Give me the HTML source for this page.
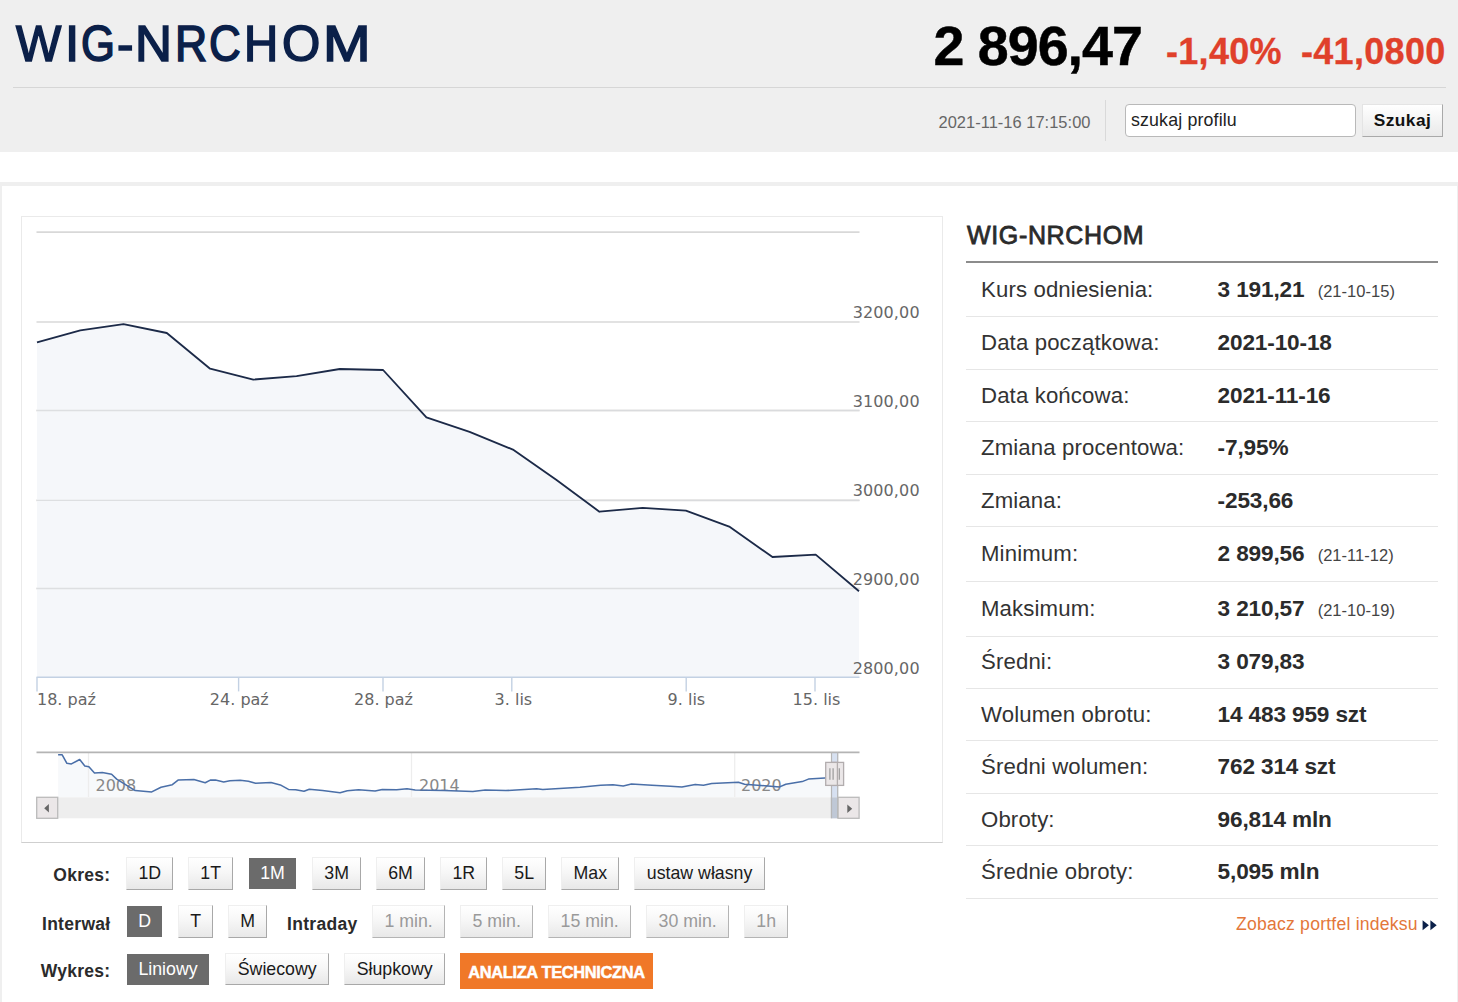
<!DOCTYPE html>
<html lang="pl">
<head>
<meta charset="utf-8">
<title>WIG-NRCHOM</title>
<style>
*{box-sizing:border-box;margin:0;padding:0}
html,body{width:1458px;height:1002px;overflow:hidden;background:#fff}
body{position:relative;font-family:"Liberation Sans",sans-serif;color:#2b2b2b}
.abs{position:absolute;white-space:nowrap}
/* header */
#hdr{left:0;top:0;width:1458px;height:152px;background:#efefef}
#ttl{left:0;top:15.4px;width:460px;height:60px;font-size:49.5px;font-weight:normal;color:#0b2049;-webkit-text-stroke:1.6px #0b2049}
#ttl span{display:inline-block;transform-origin:0 0;text-align:left}
#sep{left:13px;top:87px;width:1433px;height:1px;background:#d6d6d6}
#price{left:933.5px;top:14.6px;font-size:55.6px;line-height:62px;font-weight:bold;color:#000;letter-spacing:-1px;-webkit-text-stroke:.5px #000}
#chg1{left:1166px;top:32.2px;font-size:36px;line-height:40px;font-weight:bold;color:#e0402b;letter-spacing:.3px;-webkit-text-stroke:.3px #e0402b}
#chg2{left:1301px;top:32.2px;font-size:36px;line-height:40px;font-weight:bold;color:#e0402b;letter-spacing:.3px;-webkit-text-stroke:.3px #e0402b}
#dt{left:938.5px;top:111.7px;font-size:16.45px;letter-spacing:.03px;line-height:20px;color:#666}
#vsep{left:1105px;top:100px;width:1px;height:41px;background:#d9d9d9}
#inp{left:1125px;top:104px;width:231px;height:33px;background:#fff;border:1px solid #b9b9b9;border-radius:4px;font-size:17.8px;line-height:30px;padding-left:5px;color:#222;letter-spacing:.15px}
#btn{left:1362px;top:104px;width:81px;height:33px;border:1px solid #e4e4e4;border-right-color:#a9a9a9;border-bottom-color:#a9a9a9;background:linear-gradient(#ffffff,#e9e9e9);font-size:17.3px;line-height:31px;font-weight:bold;color:#111;text-align:center;letter-spacing:.5px}
/* frame */
#frame{left:0;top:182px;width:1458px;height:830px;border-top:4px solid #efefef;border-left:2px solid #efefef;border-right:1px solid #efefef}
#cbox{left:21px;top:216px;width:922px;height:627px;border:1px solid #eaeaea;border-bottom-color:#cfcfcf}
/* table */
#t2{left:967px;top:219.6px;font-size:25px;line-height:30px;font-weight:normal;color:#2b2b2b;letter-spacing:.65px;-webkit-text-stroke:.8px #2b2b2b}
#t2l{left:966px;top:261px;width:472px;height:2px;background:#8c8c8c}
.row{left:966px;width:472px;border-bottom:1px solid #e6e6e6}
.row .l{position:absolute;left:15px;font-size:22.2px;color:#333;letter-spacing:.13px}
.row .v{position:absolute;left:251.6px;font-size:22.6px;font-weight:bold;color:#2b2b2b;letter-spacing:-.14px}
.row .v small{font-size:16.5px;font-weight:normal;color:#444;margin-left:7.1px;letter-spacing:.02px}
#lnk{left:1236px;top:913px;font-size:17.6px;line-height:22px;color:#e3773a;letter-spacing:.22px}
/* buttons */
.lb{font-size:17.5px;line-height:20px;font-weight:bold;color:#2b2b2b;letter-spacing:.3px}
.bt{font-size:17.75px;color:#1a1a1a;text-align:center;border:1px solid #efefef;border-right:1.5px solid #a8a8a8;border-bottom:1.5px solid #a8a8a8;background:linear-gradient(#ffffff 0%,#f7f7f7 45%,#e8e8e8 100%)}
.bt.on{background:#6b6b6b;color:#fff;border-color:#6b6b6b}
.bt.dis{color:#9a9a9a;border-right-color:#b4b4b4;border-bottom-color:#b4b4b4}
#at{left:460px;top:953px;width:193px;height:35.5px;background:#f07828;color:#fff;font-weight:bold;font-size:16.4px;line-height:38.6px;text-align:center;letter-spacing:-0.33px;-webkit-text-stroke:.5px #fff}
</style>
</head>
<body>
<div id="hdr" class="abs"></div>
<div id="ttl" class="abs" style="padding-left:15.8px"><span style="width:49.3px;transform:scaleX(0.969)">W</span><span style="width:16.3px;transform:scaleX(1.033)">I</span><span style="width:35.7px;transform:scaleX(0.882)">G</span><span style="width:17.7px;transform:scaleX(1.000)">-</span><span style="width:40.2px;transform:scaleX(1.033)">N</span><span style="width:33.6px;transform:scaleX(0.900)">R</span><span style="width:35.4px;transform:scaleX(0.888)">C</span><span style="width:38.4px;transform:scaleX(0.957)">H</span><span style="width:41.1px;transform:scaleX(0.994)">O</span><span style="width:50.0px;transform:scaleX(1.154)">M</span></div>
<div id="sep" class="abs"></div>
<div id="price" class="abs">2 896,47</div>
<div id="chg1" class="abs">-1,40%</div>
<div id="chg2" class="abs">-41,0800</div>
<div id="dt" class="abs">2021-11-16 17:15:00</div>
<div id="vsep" class="abs"></div>
<div id="inp" class="abs">szukaj profilu</div>
<div id="btn" class="abs">Szukaj</div>

<div id="frame" class="abs"></div>
<div id="cbox" class="abs"></div>
<svg class="abs" style="left:0;top:0" width="1458" height="1002" viewBox="0 0 1458 1002" font-family="'DejaVu Sans','Liberation Sans',sans-serif">
<path d="M36.5 232.1 H859.5" stroke="#d8d8d8" stroke-width="1.6" fill="none"/>
<path d="M36.5 322.0 H859.5" stroke="#d8d8d8" stroke-width="1.6" fill="none"/>
<path d="M36.5 410.5 H859.5" stroke="#d8d8d8" stroke-width="1.6" fill="none"/>
<path d="M36.5 500.4 H859.5" stroke="#d8d8d8" stroke-width="1.6" fill="none"/>
<path d="M36.5 588.5 H859.5" stroke="#d8d8d8" stroke-width="1.6" fill="none"/>
<path d="M37.0 342.3 L80.3 330.3 L123.5 324.1 L166.8 333.0 L210.1 368.7 L253.3 379.6 L296.6 376.2 L339.8 369.0 L383.1 370.0 L426.4 417.4 L469.6 431.8 L512.9 449.6 L556.2 479.8 L599.4 511.7 L642.7 507.9 L685.9 510.6 L729.2 526.6 L772.5 557.0 L815.7 554.6 L859.0 591.2 L859.0 677.2 L37.0 677.2 Z" fill="#f5f7fa" stroke="none"/>
<path d="M36.5 410.5 H859.5" stroke="#dadbde" stroke-width="1.4" fill="none" opacity="0.9"/>
<path d="M36.5 500.4 H859.5" stroke="#dadbde" stroke-width="1.4" fill="none" opacity="0.9"/>
<path d="M36.5 588.5 H859.5" stroke="#dadbde" stroke-width="1.4" fill="none" opacity="0.9"/>
<path d="M37.0 342.3 L80.3 330.3 L123.5 324.1 L166.8 333.0 L210.1 368.7 L253.3 379.6 L296.6 376.2 L339.8 369.0 L383.1 370.0 L426.4 417.4 L469.6 431.8 L512.9 449.6 L556.2 479.8 L599.4 511.7 L642.7 507.9 L685.9 510.6 L729.2 526.6 L772.5 557.0 L815.7 554.6 L859.0 591.2" fill="none" stroke="#1c2a48" stroke-width="1.85" stroke-linejoin="round" stroke-linecap="butt"/>
<path d="M36.5 677.2 H859.5" stroke="#c3d1e3" stroke-width="1.5" fill="none"/>
<path d="M37 677.2 V691.4" stroke="#c3d1e3" stroke-width="1.4" fill="none"/>
<path d="M238.6 677.2 V691.4" stroke="#c3d1e3" stroke-width="1.4" fill="none"/>
<path d="M383 677.2 V691.4" stroke="#c3d1e3" stroke-width="1.4" fill="none"/>
<path d="M511.8 677.2 V691.4" stroke="#c3d1e3" stroke-width="1.4" fill="none"/>
<path d="M686.2 677.2 V691.4" stroke="#c3d1e3" stroke-width="1.4" fill="none"/>
<path d="M815 677.2 V691.4" stroke="#c3d1e3" stroke-width="1.4" fill="none"/>
<text x="919.7" y="318.2" text-anchor="end" font-size="16" letter-spacing="0.12" fill="#666">3200,00</text>
<text x="919.7" y="407.2" text-anchor="end" font-size="16" letter-spacing="0.12" fill="#666">3100,00</text>
<text x="919.7" y="496.2" text-anchor="end" font-size="16" letter-spacing="0.12" fill="#666">3000,00</text>
<text x="919.7" y="585.2" text-anchor="end" font-size="16" letter-spacing="0.12" fill="#666">2900,00</text>
<text x="919.7" y="674.1" text-anchor="end" font-size="16" letter-spacing="0.12" fill="#666">2800,00</text>
<text x="37" y="704.5" text-anchor="start" font-size="16" fill="#666">18. paź</text>
<text x="239.3" y="704.5" text-anchor="middle" font-size="16" fill="#666">24. paź</text>
<text x="383.5" y="704.5" text-anchor="middle" font-size="16" fill="#666">28. paź</text>
<text x="513.4" y="704.5" text-anchor="middle" font-size="16" fill="#666">3. lis</text>
<text x="686.4" y="704.5" text-anchor="middle" font-size="16" fill="#666">9. lis</text>
<text x="816.5" y="704.5" text-anchor="middle" font-size="16" fill="#666">15. lis</text>
<path d="M58.1 754.8 L62.2 754.8 L66.9 763.3 L71.4 763.9 L79.7 759.5 L84.8 765.9 L88.9 766.7 L94.5 772.9 L102.3 772.5 L111.6 774.2 L116.7 779.1 L135.2 790.6 L151.7 791.9 L161.0 787.3 L172.3 784.7 L178.4 779.9 L193.9 779.5 L205.2 782.8 L210.3 780.1 L215.5 780.1 L223.7 782.0 L229.9 780.7 L240.2 780.3 L248.4 781.2 L255.6 783.2 L271.0 782.6 L280.3 784.9 L288.5 789.4 L295.7 789.8 L304.0 791.2 L309.3 789.2 L322.6 790.6 L340.1 792.7 L347.3 790.8 L358.6 789.8 L375.1 791.0 L382.3 789.4 L396.7 789.8 L407.0 788.8 L415.2 790.0 L444.0 790.4 L472.8 791.4 L485.2 790.0 L505.8 790.6 L536.6 788.8 L542.8 789.4 L580.0 787.3 L600.6 785.3 L612.9 784.7 L623.2 785.9 L631.4 784.0 L652.0 785.3 L670.5 786.3 L681.9 787.1 L695.2 784.4 L703.5 785.3 L711.7 783.6 L738.4 782.2 L744.6 784.2 L779.6 786.9 L785.8 784.2 L802.2 781.6 L808.4 779.1 L824.9 778.1 L835.0 777.6 L835 797 L58.1 797 Z" fill="#f4f6fa" stroke="none"/>
<path d="M88.5 753 V797" stroke="#e6e6e6" stroke-width="1.3" fill="none"/>
<path d="M411.5 753 V797" stroke="#e6e6e6" stroke-width="1.3" fill="none"/>
<path d="M734.7 753 V797" stroke="#e6e6e6" stroke-width="1.3" fill="none"/>
<rect x="37" y="753" width="794.5" height="44" fill="#ffffff" opacity="0.3"/>
<rect x="838" y="753" width="21" height="44" fill="#ffffff" opacity="0.3"/>
<text x="95.5" y="790.8" font-size="16" fill="#888888">2008</text>
<text x="419" y="790.8" font-size="16" fill="#888888">2014</text>
<text x="741" y="790.8" font-size="16" fill="#888888">2020</text>
<rect x="831.4" y="753" width="6.8" height="44" fill="#d3def0" opacity="0.9"/>
<path d="M58.1 754.8 L62.2 754.8 L66.9 763.3 L71.4 763.9 L79.7 759.5 L84.8 765.9 L88.9 766.7 L94.5 772.9 L102.3 772.5 L111.6 774.2 L116.7 779.1 L135.2 790.6 L151.7 791.9 L161.0 787.3 L172.3 784.7 L178.4 779.9 L193.9 779.5 L205.2 782.8 L210.3 780.1 L215.5 780.1 L223.7 782.0 L229.9 780.7 L240.2 780.3 L248.4 781.2 L255.6 783.2 L271.0 782.6 L280.3 784.9 L288.5 789.4 L295.7 789.8 L304.0 791.2 L309.3 789.2 L322.6 790.6 L340.1 792.7 L347.3 790.8 L358.6 789.8 L375.1 791.0 L382.3 789.4 L396.7 789.8 L407.0 788.8 L415.2 790.0 L444.0 790.4 L472.8 791.4 L485.2 790.0 L505.8 790.6 L536.6 788.8 L542.8 789.4 L580.0 787.3 L600.6 785.3 L612.9 784.7 L623.2 785.9 L631.4 784.0 L652.0 785.3 L670.5 786.3 L681.9 787.1 L695.2 784.4 L703.5 785.3 L711.7 783.6 L738.4 782.2 L744.6 784.2 L779.6 786.9 L785.8 784.2 L802.2 781.6 L808.4 779.1 L824.9 778.1 L835.0 777.6" fill="none" stroke="#4a6fa8" stroke-width="1.55" stroke-linejoin="round"/>
<path d="M36.5 752.4 H859.5" stroke="#b4b4b4" stroke-width="1.6" fill="none"/>
<rect x="37" y="797.3" width="822" height="21" fill="#eeeeee"/>
<rect x="830.8" y="797.3" width="7.4" height="21" fill="#bfc8d6"/>
<path d="M831.5 752.2 V818.3 M837.7 752.2 V818.3" stroke="#b6b6b6" stroke-width="1.2" fill="none"/>
<rect x="36.7" y="797.3" width="21" height="21" fill="#ebe7e8" stroke="#bbbbbb" stroke-width="1.3"/>
<path d="M48.9 804.0 L48.9 812.6 L44.2 808.3 Z" fill="#666"/>
<rect x="838.1" y="797.3" width="21" height="21" fill="#ebe7e8" stroke="#bbbbbb" stroke-width="1.3"/>
<path d="M847.3 804.4 L847.3 813.0 L852.2 808.7 Z" fill="#666"/>
<rect x="831.9" y="762.4" width="11.7" height="23" fill="#ebe7e8" stroke="#b2adae" stroke-width="1.3"/>
<path d="M836.1 768.2 V779.8 M839.3 768.2 V779.8" stroke="#999" stroke-width="1.2" fill="none"/>
<rect x="825.7" y="762.4" width="11.7" height="23" fill="#ebe7e8" stroke="#b2adae" stroke-width="1.3"/>
<path d="M829.9000000000001 768.2 V779.8 M833.1 768.2 V779.8" stroke="#999" stroke-width="1.2" fill="none"/>
</svg>
<div class="abs lb" style="right:1347.5px;top:865.3px">Okres:</div>
<div class="abs lb" style="right:1347.5px;top:913.9px">Interwał</div>
<div class="abs lb" style="right:1347.5px;top:961.1px">Wykres:</div>
<div class="abs lb" style="left:287px;top:913.9px">Intraday</div>
<div class="abs bt " style="left:126.4px;top:857.0px;width:46.7px;height:32.5px;line-height:31.1px">1D</div>
<div class="abs bt " style="left:188.2px;top:857.0px;width:45.0px;height:32.5px;line-height:31.1px">1T</div>
<div class="abs bt on" style="left:249.0px;top:857.8px;width:47.1px;height:31.7px;line-height:28.5px">1M</div>
<div class="abs bt " style="left:312.2px;top:857.0px;width:48.9px;height:32.5px;line-height:31.1px">3M</div>
<div class="abs bt " style="left:375.8px;top:857.0px;width:49.5px;height:32.5px;line-height:31.1px">6M</div>
<div class="abs bt " style="left:440.3px;top:857.0px;width:47.0px;height:32.5px;line-height:31.1px">1R</div>
<div class="abs bt " style="left:502.0px;top:857.0px;width:44.3px;height:32.5px;line-height:31.1px">5L</div>
<div class="abs bt " style="left:561.3px;top:857.0px;width:58.0px;height:32.5px;line-height:31.1px">Max</div>
<div class="abs bt " style="left:634.0px;top:857.0px;width:131.2px;height:32.5px;line-height:31.1px">ustaw własny</div>
<div class="abs bt on" style="left:126.9px;top:905.8px;width:35.4px;height:31.7px;line-height:28.5px">D</div>
<div class="abs bt " style="left:178.3px;top:905.0px;width:34.9px;height:32.5px;line-height:31.1px">T</div>
<div class="abs bt " style="left:228.2px;top:905.0px;width:39.0px;height:32.5px;line-height:31.1px">M</div>
<div class="abs bt dis" style="left:372.3px;top:905.0px;width:72.7px;height:32.5px;line-height:31.1px">1 min.</div>
<div class="abs bt dis" style="left:460.0px;top:905.0px;width:73.4px;height:32.5px;line-height:31.1px">5 min.</div>
<div class="abs bt dis" style="left:548.0px;top:905.0px;width:83.3px;height:32.5px;line-height:31.1px">15 min.</div>
<div class="abs bt dis" style="left:646.0px;top:905.0px;width:83.3px;height:32.5px;line-height:31.1px">30 min.</div>
<div class="abs bt dis" style="left:744.0px;top:905.0px;width:44.3px;height:32.5px;line-height:31.1px">1h</div>
<div class="abs bt on" style="left:126.9px;top:953.7px;width:82.3px;height:31.7px;line-height:28.5px">Liniowy</div>
<div class="abs bt " style="left:225.2px;top:952.9px;width:104.0px;height:32.5px;line-height:31.1px">Świecowy</div>
<div class="abs bt " style="left:344.3px;top:952.9px;width:100.7px;height:32.5px;line-height:31.1px">Słupkowy</div>
<div class="abs" id="at">ANALIZA TECHNICZNA</div>

<div id="t2" class="abs">WIG-NRCHOM</div>
<div id="t2l" class="abs"></div>
<div class="row abs" style="top:263px;height:54px"><span class="l" style="top:13.7px;line-height:25px">Kurs odniesienia:</span><span class="v" style="top:13.7px;line-height:25px">3 191,21 <small>(21-10-15)</small></span></div>
<div class="row abs" style="top:316px;height:54px"><span class="l" style="top:13.7px;line-height:25px">Data początkowa:</span><span class="v" style="top:13.7px;line-height:25px">2021-10-18</span></div>
<div class="row abs" style="top:369px;height:53px"><span class="l" style="top:13.5px;line-height:25px">Data końcowa:</span><span class="v" style="top:13.5px;line-height:25px">2021-11-16</span></div>
<div class="row abs" style="top:421px;height:54px"><span class="l" style="top:14.1px;line-height:25px">Zmiana procentowa:</span><span class="v" style="top:14.1px;line-height:25px">-7,95%</span></div>
<div class="row abs" style="top:474px;height:53px"><span class="l" style="top:14.1px;line-height:25px">Zmiana:</span><span class="v" style="top:14.1px;line-height:25px">-253,66</span></div>
<div class="row abs" style="top:526px;height:56px"><span class="l" style="top:14.9px;line-height:25px">Minimum:</span><span class="v" style="top:14.9px;line-height:25px">2 899,56 <small>(21-11-12)</small></span></div>
<div class="row abs" style="top:581px;height:56px"><span class="l" style="top:14.7px;line-height:25px">Maksimum:</span><span class="v" style="top:14.7px;line-height:25px">3 210,57 <small>(21-10-19)</small></span></div>
<div class="row abs" style="top:636px;height:53px"><span class="l" style="top:12.7px;line-height:25px">Średni:</span><span class="v" style="top:12.7px;line-height:25px">3 079,83</span></div>
<div class="row abs" style="top:688px;height:53px"><span class="l" style="top:13.8px;line-height:25px">Wolumen obrotu:</span><span class="v" style="top:13.8px;line-height:25px">14 483 959 szt</span></div>
<div class="row abs" style="top:740px;height:54px"><span class="l" style="top:14.0px;line-height:25px">Średni wolumen:</span><span class="v" style="top:14.0px;line-height:25px">762 314 szt</span></div>
<div class="row abs" style="top:793px;height:53px"><span class="l" style="top:13.5px;line-height:25px">Obroty:</span><span class="v" style="top:13.5px;line-height:25px">96,814 mln</span></div>
<div class="row abs" style="top:845px;height:54px"><span class="l" style="top:13.9px;line-height:25px">Średnie obroty:</span><span class="v" style="top:13.9px;line-height:25px">5,095 mln</span></div>
<div id="lnk" class="abs">Zobacz portfel indeksu</div>
<svg class="abs" style="left:1422px;top:919px" width="16" height="13" viewBox="0 0 16 13"><path d="M0.6 1.2 L6.9 6.2 L0.6 11.2 Z M8.4 1.2 L14.7 6.2 L8.4 11.2 Z" fill="#0b2049"/></svg>
</body>
</html>
